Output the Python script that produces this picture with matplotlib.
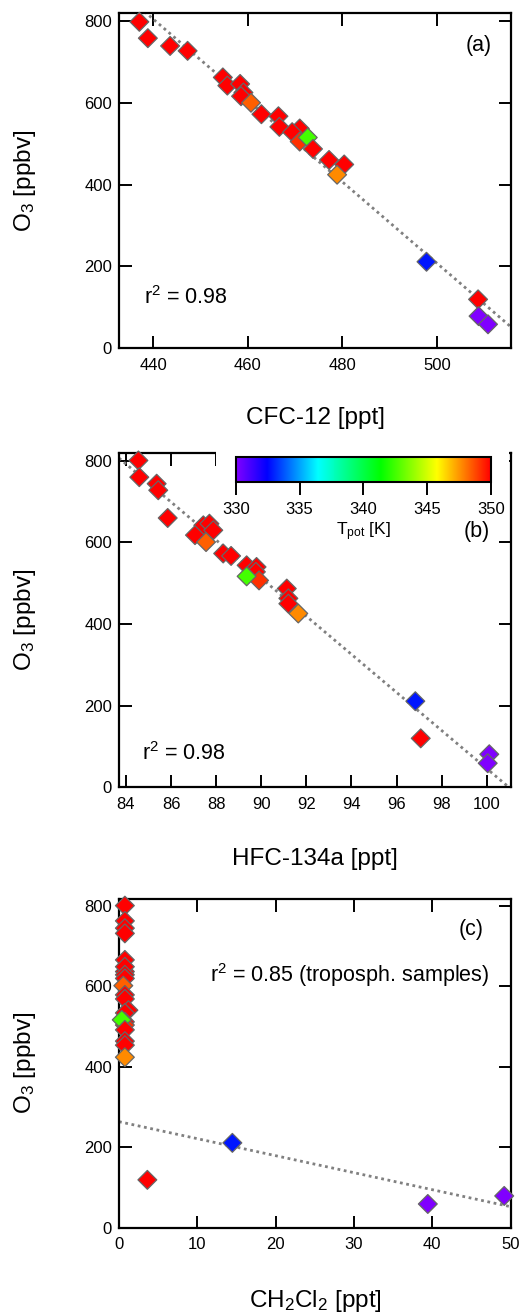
import matplotlib
matplotlib.use('Agg')
import matplotlib.pyplot as plt
import numpy as np
from matplotlib.colors import LinearSegmentedColormap, Normalize
from matplotlib.cm import ScalarMappable
from matplotlib.patches import Rectangle

plt.rcParams['font.family'] = ['Liberation Sans', 'DejaVu Sans']
plt.rcParams['mathtext.fontset'] = 'custom'
plt.rcParams['mathtext.rm'] = 'Liberation Sans'
plt.rcParams['mathtext.it'] = 'Liberation Sans:italic'

# ---------------- data ----------------
# potential temperature of each sample [K]
tpot = [352, 352, 352, 352, 352, 352, 352, 352, 352, 348.4,
        352, 352, 352, 352, 352, 349.2, 342.5, 352, 352, 352,
        347.7, 332.8, 352, 330, 330]

# panel (a): CFC-12 vs O3
cfc12 = [437.1, 438.9, 443.6, 447.3, 454.75, 455.7, 458.4, 459.1, 458.6, 460.7,
         462.9, 466.5, 466.7, 471.0, 469.4, 471.0, 472.7, 473.8, 477.2, 480.4,
         478.9, 497.8, 508.7, 508.8, 510.8]
o3_a = [798, 758, 739, 727, 662, 642, 646, 625, 616, 600,
        572, 567, 541, 537, 528, 505, 515, 487, 460, 449,
        424, 211, 119, 78, 58]

# panel (b): HFC-134a vs O3
hfc134a = [84.55, 84.59, 85.36, 85.43, 85.85, 87.43, 87.70, 87.87, 87.06, 87.55,
           88.31, 88.66, 89.35, 89.79, 89.76, 89.90, 89.35, 91.13, 91.20, 91.20,
           91.64, 96.83, 97.07, 100.11, 100.04]
o3_b = [801, 760, 744, 728, 660, 642, 646, 630, 618, 601,
        573, 567, 544, 540, 528, 507, 517, 487, 463, 450,
        426, 211, 120, 81, 59]

# panel (c): CH2Cl2 vs O3
ch2cl2 = [0.75, 0.75, 0.75, 0.75, 0.75, 0.75, 0.75, 0.75, 0.75, 0.55,
          0.75, 0.75, 1.20, 0.75, 0.75, 0.75, 0.35, 0.75, 0.75, 0.75,
          0.75, 14.47, 3.62, 49.17, 39.42]
o3_c = [801, 763, 745, 732, 666, 637, 649, 629, 620, 602,
        579, 569, 541, 534, 512, 504, 517, 492, 464, 454,
        424, 211, 119, 79, 59]

# linear fits (slope, intercept)
fit_a = (-9.96, 5187.4)
fit_b = (-46.66, 4711.8)
fit_c = (-4.23, 263.7)

r2_labels = [r'$\mathregular{r^2}$ = 0.98', r'$\mathregular{r^2}$ = 0.98',
             r'$\mathregular{r^2}$ = 0.85 (troposph. samples)']
panel_tags = ['(a)', '(b)', '(c)']
xlabels = ['CFC-12 [ppt]', 'HFC-134a [ppt]', r'$\mathregular{CH_2Cl_2}$ [ppt]']
ylabel = r'$\mathregular{O_3}$ [ppbv]'
cbar_ticks = [330, 335, 340, 345, 350]

# ---------------- style ----------------
cmap = LinearSegmentedColormap.from_list('igor_rainbow', [
    (0.0, '#8000ff'), (0.12, '#0000ff'), (0.32, '#00ffff'),
    (0.57, '#00ff00'), (0.79, '#ffff00'), (1.0, '#ff0000')])
norm = Normalize(330, 350)

W, H = 521, 1312
fig = plt.figure(figsize=(W / 100, H / 100), dpi=100)


def px_axes(l, t, r, b):
    return fig.add_axes([l / W, 1 - b / H, (r - l) / W, (b - t) / H])


rects = [(119, 13, 511, 348), (119, 452.7, 510.7, 787.3), (119, 899, 510.7, 1227.7)]
xlims = [(432.8, 515.66), (83.69, 101.06), (0, 50)]
ylims = [(0, 819.6), (0, 820), (0, 817.5)]
xticks = [[440, 460, 480, 500], list(range(84, 101, 2)), list(range(0, 51, 10))]
xs = [cfc12, hfc134a, ch2cl2]
ys = [o3_a, o3_b, o3_c]
fits = [fit_a, fit_b, fit_c]
xlabel_base = [424, 865, 1307]
r2_pos = [(144, 304, 'left'), (141.5, 760, 'left'), (489, 975, 'right')]
tag_pos = [(492, 45), (490, 531), (484, 930)]

axes = []
for i in range(3):
    ax = px_axes(*rects[i])
    axes.append(ax)
    ax.set_xlim(*xlims[i])
    ax.set_ylim(*ylims[i])
    ax.set_xticks(xticks[i])
    ax.set_yticks([0, 200, 400, 600, 800])
    ax.tick_params(direction='in', length=9, width=1.4, top=True, right=True,
                   labelsize=12, colors='black')
    ax.tick_params(axis='x', pad=7)
    ax.tick_params(axis='y', pad=5)
    for s in ax.spines.values():
        s.set_linewidth(1.6)
    xx = np.array(xlims[i])
    m, c0 = fits[i]
    ax.plot(xx, m * xx + c0, color='#808080', lw=2.0, ls=(0, (1.0, 1.3)),
            dash_capstyle='butt', zorder=2)
    ax.scatter(xs[i], ys[i], c=tpot, cmap=cmap, norm=norm, marker='D', s=92,
               edgecolors='#666666', linewidths=0.9, zorder=3, clip_on=False)
    # labels
    fig.text(315 / W, 1 - xlabel_base[i] / H, xlabels[i], ha='center',
             va='baseline', fontsize=17.5)
    yc = (rects[i][1] + rects[i][3]) / 2
    fig.text(25 / W, 1 - yc / H, ylabel, rotation=90, ha='center', va='center',
             fontsize=17.5)
    x0, y0, ha = r2_pos[i]
    fig.text(x0 / W, 1 - y0 / H, r2_labels[i], ha=ha,
             va='baseline' if i < 2 else 'center', fontsize=15.5)
    tx, ty = tag_pos[i]
    fig.text(tx / W, 1 - ty / H, panel_tags[i], ha='right', va='center', fontsize=15.5)

# white box hiding part of top frame of panel (b), behind the colour scale
axes[1].add_patch(Rectangle((216 / W, 1 - 468 / H), (509.3 - 216) / W, 22 / H,
                            transform=fig.transFigure, facecolor='white',
                            edgecolor='none', zorder=10, clip_on=False))

# colour scale
cax = px_axes(236, 456.7, 490.7, 482.3)
cb = fig.colorbar(ScalarMappable(norm=norm, cmap=cmap), cax=cax,
                  orientation='horizontal', ticks=cbar_ticks)
cb.outline.set_linewidth(1.5)
cax.tick_params(direction='out', length=9, width=1.4, labelsize=12, pad=5)
fig.text(363 / W, 1 - 531.7 / H, r'$\mathregular{T_{pot}}$ [K]', ha='center',
         va='center', fontsize=12.5)

fig.savefig('out.png', dpi=100)
